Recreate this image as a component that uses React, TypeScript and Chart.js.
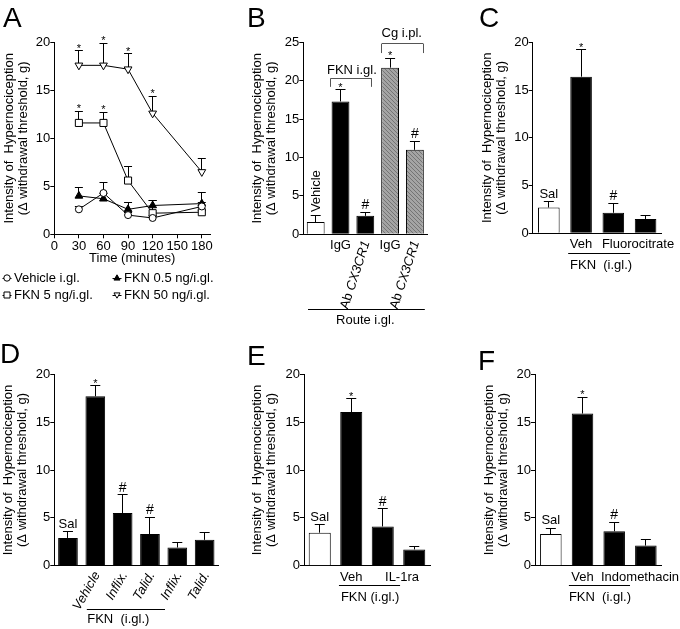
import React, { useEffect, useRef } from 'react';
import { Chart, registerables } from 'chart.js';

Chart.register(...registerables);

const FONT = "'Liberation Sans', Arial, Helvetica, sans-serif";
Chart.defaults.font.family = FONT;
Chart.defaults.font.size = 13;
Chart.defaults.color = '#000';

// ---------------- DATA ----------------
const Y_TITLE = ['Intensity of  Hypernociception', '(\u0394 withdrawal threshold, g)'];

// Panel A (time course)
const A_TIMES = [30, 60, 90, 120, 180];
const A_X_TICKS = [0, 30, 60, 90, 120, 150, 180];
const A_Y_TICKS = [0, 5, 10, 15, 20];
const A_X_TITLE = 'Time (minutes)';
const A_SERIES = ['Vehicle i.gl.', 'FKN 0.5 ng/i.gl.', 'FKN 5 ng/i.gl.', 'FKN 50 ng/i.gl.'];
const A_VEHICLE = [2.6, 4.3, 2.0, 1.7, 2.9];
const A_VEHICLE_SEM = [0.3, 1.1, 0.3, 0.3, 0.4];
const A_FKN05 = [4.0, 3.7, 2.6, 3.0, 3.2];
const A_FKN05_SEM = [0.9, 0.6, 0.7, 0.5, 1.2];
const A_FKN5 = [11.6, 11.6, 5.6, 2.2, 2.3];
const A_FKN5_SEM = [1.2, 1.1, 1.5, 1.3, 0.2];
const A_FKN50 = [17.6, 17.6, 17.2, 12.6, 6.5];
const A_FKN50_SEM = [1.5, 2.3, 1.6, 1.8, 1.4];
const A_VEHICLE_SIG = ['', '', '', '', ''];
const A_FKN05_SIG = ['', '', '', '', ''];
const A_FKN5_SIG = ['*', '*', '', '', ''];
const A_FKN50_SIG = ['*', '*', '*', '*', ''];

// Panel B
const B_LABELS = ['Vehicle', 'IgG', 'Ab CX3CR1', 'IgG', 'Ab CX3CR1'];
const B_VALUES = [1.6, 17.3, 2.4, 21.7, 11.0];
const B_SEM = [0.9, 1.5, 0.45, 1.25, 1.1];
const B_SIG = ['', '*', '#', '*', '#'];
const B_Y_TICKS = [0, 5, 10, 15, 20, 25];
const B_GROUPS = ['FKN i.gl.', 'Cg i.pl.'];
const B_ROUTE = 'Route i.gl.';

// Panel C
const C_LABELS = ['Sal', 'Veh', 'Fluorocitrate', 'Fluorocitrate alone'];
const C_VALUES = [2.7, 16.4, 2.15, 1.5];
const C_SEM = [0.6, 2.8, 1.0, 0.4];
const C_SIG = ['', '*', '#', ''];
const C_Y_TICKS = [0, 5, 10, 15, 20];

// Panel D
const D_LABELS = ['Sal', 'Vehicle', 'Inflix.', 'Talid.', 'Inflix.', 'Talid.'];
const D_VALUES = [2.9, 17.7, 5.5, 3.3, 1.9, 2.7];
const D_SEM = [0.65, 1.1, 1.9, 1.75, 0.5, 0.8];
const D_SIG = ['', '*', '#', '#', '', ''];
const D_Y_TICKS = [0, 5, 10, 15, 20];

// Panel E
const E_LABELS = ['Sal', 'Veh', 'IL-1ra', 'IL-1ra alone'];
const E_VALUES = [3.45, 16.05, 4.1, 1.7];
const E_SEM = [0.85, 1.4, 1.85, 0.3];
const E_SIG = ['', '*', '#', ''];
const E_Y_TICKS = [0, 5, 10, 15, 20];

// Panel F
const F_LABELS = ['Sal', 'Veh', 'Indomethacin', 'Indomethacin alone'];
const F_VALUES = [3.3, 15.9, 3.6, 2.1];
const F_SEM = [0.6, 1.7, 0.95, 0.65];
const F_SIG = ['', '*', '#', ''];
const F_Y_TICKS = [0, 5, 10, 15, 20];

const GROUP_FKN_WIDE = 'FKN  (i.gl.)';
const GROUP_FKN = 'FKN (i.gl.)';

// ---------------- LAYOUT ----------------
type Box = { x: number; y: number; w: number; h: number };
type Area = { l: number; t: number; r: number; b: number };

const A_BOX: Box = { x: 0, y: 0, w: 228, h: 310 };
const A_AREA: Area = { l: 54.3, t: 42.3, r: 210, b: 234.3 };
const B_BOX: Box = { x: 240, y: 0, w: 210, h: 330 };
const B_AREA: Area = { l: 303.3, t: 42.3, r: 427.3, b: 234.3 };
const C_BOX: Box = { x: 450, y: 0, w: 230, h: 310 };
const C_AREA: Area = { l: 532.7, t: 42.3, r: 661.7, b: 233.3 };
const D_BOX: Box = { x: 0, y: 320, w: 230, h: 309 };
const D_AREA: Area = { l: 54.3, t: 374.3, r: 218.3, b: 565.7 };
const E_BOX: Box = { x: 240, y: 320, w: 210, h: 309 };
const E_AREA: Area = { l: 304, t: 374.3, r: 430, b: 565.7 };
const F_BOX: Box = { x: 465, y: 320, w: 215, h: 309 };
const F_AREA: Area = { l: 535, t: 374.3, r: 661.7, b: 565.7 };

// ---------------- HELPERS ----------------
type TextOpts = { size?: number; align?: any; baseline?: any; rot?: number; italic?: boolean; color?: string };

function drawText(ctx: any, s: string, x: number, y: number, o: TextOpts = {}) {
  const { size = 13, align = 'center', baseline = 'middle', rot = 0, italic = false, color = '#000' } = o;
  ctx.save();
  ctx.font = `${italic ? 'italic ' : ''}${size}px ${FONT}`;
  ctx.fillStyle = color;
  ctx.textAlign = align;
  ctx.textBaseline = baseline;
  ctx.translate(x, y);
  if (rot) ctx.rotate((rot * Math.PI) / 180);
  ctx.fillText(s, 0, 0);
  ctx.restore();
}

function drawRich(ctx: any, parts: [string, boolean][], x: number, y: number, rot: number, size = 13) {
  ctx.save();
  ctx.translate(x, y);
  ctx.rotate((rot * Math.PI) / 180);
  ctx.textBaseline = 'middle';
  ctx.textAlign = 'left';
  ctx.fillStyle = '#000';
  const fonts = parts.map(([, it]) => `${it ? 'italic ' : ''}${size}px ${FONT}`);
  const widths = parts.map(([s], k) => {
    ctx.font = fonts[k];
    return ctx.measureText(s).width;
  });
  let cx = -widths.reduce((a, b) => a + b, 0);
  parts.forEach(([s], k) => {
    ctx.font = fonts[k];
    ctx.fillText(s, cx, 0);
    cx += widths[k];
  });
  ctx.restore();
}

const snap = (v: number) => Math.round(v - 0.5) + 0.5;

function drawLine(ctx: any, x1: number, y1: number, x2: number, y2: number, color = '#000') {
  ctx.save();
  ctx.strokeStyle = color;
  ctx.lineWidth = 1;
  ctx.beginPath();
  const sx1 = x1 === x2 ? snap(x1) : x1;
  const sx2 = x1 === x2 ? snap(x2) : x2;
  const sy1 = y1 === y2 ? snap(y1) : y1;
  const sy2 = y1 === y2 ? snap(y2) : y2;
  ctx.moveTo(sx1, sy1);
  ctx.lineTo(sx2, sy2);
  ctx.stroke();
  ctx.restore();
}

function makeAnn(chart: any) {
  const ctx = chart.ctx;
  const xs = chart.scales.x;
  const ys = chart.scales.y;
  return {
    ctx,
    px: (v: number) => xs.getPixelForValue(v),
    py: (v: number) => ys.getPixelForValue(v),
    bottom: chart.chartArea.bottom,
    text: (s: string, x: number, y: number, o?: TextOpts) => drawText(ctx, s, x, y, o),
    rich: (p: [string, boolean][], x: number, y: number, rot: number) => drawRich(ctx, p, x, y, rot),
    line: (x1: number, y1: number, x2: number, y2: number, c?: string) => drawLine(ctx, x1, y1, x2, y2, c),
  };
}

function drawLetter(ctx: any, box: Box, letter: string, x: number, y: number) {
  drawText(ctx, letter, x - box.x, y - box.y, { size: 28, align: 'left', baseline: 'alphabetic' });
}

function layoutFor(box: Box, area: Area, axisLeft: number, xAxisH: number) {
  return {
    padding: {
      left: axisLeft - box.x,
      top: area.t - box.y,
      right: box.x + box.w - area.r,
      bottom: box.y + box.h - area.b - xAxisH,
    },
    yW: area.l - axisLeft,
    xH: xAxisH,
  };
}

function yScaleOpts(max: number, ticks: number[], yW: number) {
  return {
    type: 'linear',
    min: 0,
    max,
    afterBuildTicks: (s: any) => {
      s.ticks = ticks.map((v) => ({ value: v }));
    },
    afterFit: (s: any) => {
      s.width = yW;
    },
    ticks: { padding: 0, color: '#000', font: { size: 13 } },
    grid: { display: true, drawOnChartArea: false, drawTicks: true, tickLength: 4, color: '#000', lineWidth: 1 },
    border: { display: true, color: '#000', width: 1 },
    title: { display: true, text: Y_TITLE, padding: 0, color: '#000', font: { size: 13, lineHeight: 14 / 13 } },
  };
}

function hatchPattern(): any {
  const c = document.createElement('canvas');
  c.width = 4;
  c.height = 4;
  const g = c.getContext('2d');
  if (!g) return '#9a9a9a';
  g.fillStyle = '#a4a4a4';
  g.fillRect(0, 0, 4, 4);
  g.strokeStyle = '#747474';
  g.lineWidth = 1;
  g.beginPath();
  g.moveTo(0, 0);
  g.lineTo(4, 4);
  g.stroke();
  return g.createPattern(c, 'repeat') || '#9a9a9a';
}

// ---------------- BAR PANELS ----------------
type BarSpec = {
  box: Box;
  area: Area;
  axisLeft: number;
  xAxisH: number;
  letter: string;
  letterPos: [number, number];
  labels: string[];
  values: number[];
  sem: number[];
  sig: string[];
  yMax: number;
  yTicks: number[];
  fills: () => any[];
  barPct: number;
  xTitle?: string;
  annotate: (a: any) => void;
};

function makeBarConfig(spec: BarSpec) {
  const L = layoutFor(spec.box, spec.area, spec.axisLeft, spec.xAxisH);
  const plugin = {
    id: 'annot' + spec.letter,
    afterDatasetsDraw(chart: any) {
      const a = makeAnn(chart);
      spec.values.forEach((v, i) => {
        const x = a.px(i);
        const top = a.py(v + spec.sem[i]);
        a.line(x, a.py(v), x, top);
        a.line(x - 5, top, x + 5, top);
        if (spec.sig[i] === '*') a.text('*', x, top + 1, { size: 11, baseline: 'alphabetic' });
        if (spec.sig[i] === '#') a.text('#', x, top - 3, { size: 14, baseline: 'alphabetic' });
      });
      spec.annotate(a);
      drawLetter(a.ctx, spec.box, spec.letter, spec.letterPos[0], spec.letterPos[1]);
    },
  };
  return {
    type: 'bar',
    data: {
      labels: spec.labels,
      datasets: [
        {
          data: spec.values,
          backgroundColor: spec.fills(),
          borderColor: '#000',
          borderWidth: 1,
          barPercentage: spec.barPct,
          categoryPercentage: 1,
        },
      ],
    },
    options: {
      responsive: false,
      animation: false,
      devicePixelRatio: 1,
      layout: { padding: L.padding },
      plugins: { legend: { display: false }, tooltip: { enabled: false } },
      events: [],
      scales: {
        x: {
          type: 'category',
          offset: true,
          afterFit: (s: any) => {
            s.height = L.xH;
          },
          ticks: { display: false },
          grid: { display: false },
          border: { display: true, color: '#000', width: 1 },
          title: spec.xTitle
            ? { display: true, text: spec.xTitle, padding: 0, color: '#000', font: { size: 13 } }
            : { display: false },
        },
        y: yScaleOpts(spec.yMax, spec.yTicks, L.yW),
      },
    },
    plugins: [plugin],
  };
}

function salLabel(a: any, values: number[], sem: number[]) {
  a.text('Sal', a.px(0), a.py(values[0] + sem[0]) - 4, { baseline: 'alphabetic' });
}

const makeB = () =>
  makeBarConfig({
    box: B_BOX,
    area: B_AREA,
    axisLeft: 250,
    xAxisH: 93.5,
    letter: 'B',
    letterPos: [247, 27],
    labels: B_LABELS,
    values: B_VALUES,
    sem: B_SEM,
    sig: B_SIG,
    yMax: 25,
    yTicks: B_Y_TICKS,
    fills: () => {
      const h = hatchPattern();
      return ['#fff', '#000', '#000', h, h];
    },
    barPct: 0.72,
    xTitle: B_ROUTE,
    annotate: (a: any) => {
      a.text(B_LABELS[0], a.px(0) + 1, a.py(B_VALUES[0] + B_SEM[0]) - 3, { rot: -90, align: 'left' });
      [1, 3].forEach((i) => a.text(B_LABELS[i], a.px(i), a.bottom + 11));
      [2, 4].forEach((i) => {
        const [p1, p2] = B_LABELS[i].split(' ');
        a.rich([[p1 + ' ', false], [p2, true]], a.px(i) + 1, a.bottom + 7, -72);
      });
      // brackets
      const gray = '#555';
      const br = (x1: number, x2: number, yTop: number, yBot: number) => {
        a.line(a.px(x1), a.py(yTop), a.px(x2), a.py(yTop), gray);
        a.line(a.px(x1), a.py(yTop), a.px(x1), a.py(yBot), gray);
        a.line(a.px(x2), a.py(yTop), a.px(x2), a.py(yBot), gray);
      };
      br(0.6, 2.26, 20.3, 19.2);
      a.text(B_GROUPS[0], a.px(1.46), a.py(21.4));
      br(2.66, 4.34, 24.8, 23.6);
      a.text(B_GROUPS[1], a.px(3.47), a.py(26.1));
      a.line(a.px(-0.31), a.bottom + 75, a.px(4.4), a.bottom + 75);
    },
  });

const makeC = () =>
  makeBarConfig({
    box: C_BOX,
    area: C_AREA,
    axisLeft: 480,
    xAxisH: 10,
    letter: 'C',
    letterPos: [479, 27],
    labels: C_LABELS,
    values: C_VALUES,
    sem: C_SEM,
    sig: C_SIG,
    yMax: 20,
    yTicks: C_Y_TICKS,
    fills: () => ['#fff', '#000', '#000', '#000'],
    barPct: 0.67,
    annotate: (a: any) => {
      salLabel(a, C_VALUES, C_SEM);
      a.text(C_LABELS[1], a.px(1), a.bottom + 11);
      a.text(C_LABELS[2], a.px(2.5) + 8.6, a.bottom + 11);
      a.line(a.px(0.6), a.bottom + 20, a.px(2.52), a.bottom + 20);
      a.text(GROUP_FKN_WIDE, a.px(1.62), a.bottom + 32.5);
    },
  });

const makeD = () =>
  makeBarConfig({
    box: D_BOX,
    area: D_AREA,
    axisLeft: 1,
    xAxisH: 10,
    letter: 'D',
    letterPos: [0, 363],
    labels: D_LABELS,
    values: D_VALUES,
    sem: D_SEM,
    sig: D_SIG,
    yMax: 20,
    yTicks: D_Y_TICKS,
    fills: () => D_VALUES.map(() => '#000'),
    barPct: 0.72,
    annotate: (a: any) => {
      salLabel(a, D_VALUES, D_SEM);
      for (let i = 1; i < D_LABELS.length; i++) {
        a.text(D_LABELS[i], a.px(i) + 2, a.bottom + 7, { rot: -60, align: 'right', italic: true });
      }
      a.line(a.px(0.69), a.bottom + 43.3, a.px(3.55), a.bottom + 43.3);
      a.text(GROUP_FKN_WIDE, a.px(1.84), a.bottom + 53.5);
    },
  });

const makeE = () =>
  makeBarConfig({
    box: E_BOX,
    area: E_AREA,
    axisLeft: 250,
    xAxisH: 10,
    letter: 'E',
    letterPos: [247, 365],
    labels: E_LABELS,
    values: E_VALUES,
    sem: E_SEM,
    sig: E_SIG,
    yMax: 20,
    yTicks: E_Y_TICKS,
    fills: () => ['#fff', '#000', '#000', '#000'],
    barPct: 0.7,
    annotate: (a: any) => {
      salLabel(a, E_VALUES, E_SEM);
      a.text(E_LABELS[1], a.px(1), a.bottom + 11.3);
      a.text(E_LABELS[2], a.px(2.5) + 3.5, a.bottom + 11.3);
      a.line(a.px(0.61), a.bottom + 19.3, a.px(2.55), a.bottom + 19.3);
      a.text(GROUP_FKN, a.px(1.6), a.bottom + 31.5);
    },
  });

const makeF = () =>
  makeBarConfig({
    box: F_BOX,
    area: F_AREA,
    axisLeft: 482,
    xAxisH: 10,
    letter: 'F',
    letterPos: [478, 370],
    labels: F_LABELS,
    values: F_VALUES,
    sem: F_SEM,
    sig: F_SIG,
    yMax: 20,
    yTicks: F_Y_TICKS,
    fills: () => ['#fff', '#000', '#000', '#000'],
    barPct: 0.68,
    annotate: (a: any) => {
      salLabel(a, F_VALUES, F_SEM);
      a.text(F_LABELS[1], a.px(1), a.bottom + 11.3);
      a.text(F_LABELS[2], a.px(2.5) + 10, a.bottom + 11.3);
      a.line(a.px(0.57), a.bottom + 19.3, a.px(2.5), a.bottom + 19.3);
      a.text(GROUP_FKN_WIDE, a.px(1.55), a.bottom + 31.5);
    },
  });

// ---------------- PANEL A ----------------
function drawMarker(ctx: any, style: string, x: number, y: number, r: number, fill: string) {
  ctx.save();
  ctx.strokeStyle = '#000';
  ctx.lineWidth = 1;
  ctx.fillStyle = fill;
  ctx.beginPath();
  if (style === 'circle') ctx.arc(x, y, r, 0, Math.PI * 2);
  else if (style === 'square') ctx.rect(x - r, y - r, 2 * r, 2 * r);
  else if (style === 'triUp') {
    ctx.moveTo(x, y - r);
    ctx.lineTo(x + r * 0.95, y + r * 0.65);
    ctx.lineTo(x - r * 0.95, y + r * 0.65);
    ctx.closePath();
  } else {
    ctx.moveTo(x, y + r);
    ctx.lineTo(x + r * 0.95, y - r * 0.65);
    ctx.lineTo(x - r * 0.95, y - r * 0.65);
    ctx.closePath();
  }
  ctx.fill();
  ctx.stroke();
  ctx.restore();
}

const makeA = () => {
  const L = layoutFor(A_BOX, A_AREA, 2, 31.5);
  const series = [
    { name: A_SERIES[0], mean: A_VEHICLE, sem: A_VEHICLE_SEM, sig: A_VEHICLE_SIG, style: 'circle', rot: 0, r: 3.5, fill: '#fff', mk: 'circle' },
    { name: A_SERIES[1], mean: A_FKN05, sem: A_FKN05_SEM, sig: A_FKN05_SIG, style: 'triangle', rot: 0, r: 4.5, fill: '#000', mk: 'triUp' },
    { name: A_SERIES[2], mean: A_FKN5, sem: A_FKN5_SEM, sig: A_FKN5_SIG, style: 'rect', rot: 0, r: 5, fill: '#fff', mk: 'square' },
    { name: A_SERIES[3], mean: A_FKN50, sem: A_FKN50_SEM, sig: A_FKN50_SIG, style: 'triangle', rot: 180, r: 4.5, fill: '#fff', mk: 'triDown' },
  ];
  const plugin = {
    id: 'annotA',
    beforeDatasetsDraw(chart: any) {
      const a = makeAnn(chart);
      series.forEach((s) => {
        A_TIMES.forEach((t, i) => {
          const x = a.px(t);
          const top = a.py(s.mean[i] + s.sem[i]);
          a.line(x, a.py(s.mean[i]), x, top);
          a.line(x - 4, top, x + 4, top);
        });
      });
    },
    afterDatasetsDraw(chart: any) {
      const a = makeAnn(chart);
      series.forEach((s) => {
        A_TIMES.forEach((t, i) => {
          if (s.sig[i] === '*') a.text('*', a.px(t), a.py(s.mean[i] + s.sem[i]) + 1, { size: 11, baseline: 'alphabetic' });
        });
      });
      // legend (2 x 2)
      const cols = [7, 117];
      const rows = [278, 295];
      const order = [0, 1, 2, 3];
      order.forEach((k, n) => {
        const s = series[k];
        const mx = cols[n % 2] - A_BOX.x;
        const my = rows[Math.floor(n / 2)] - A_BOX.y;
        a.line(mx - 4.5, my, mx + 4.5, my);
        drawMarker(a.ctx, s.mk, mx, my, s.mk === 'square' ? 3 : 3.2, s.fill);
        a.text(s.name, mx + 7, my, { align: 'left' });
      });
      drawLetter(a.ctx, A_BOX, 'A', 3, 27);
    },
  };
  return {
    type: 'line',
    data: {
      datasets: series.map((s) => ({
        label: s.name,
        data: A_TIMES.map((t, i) => ({ x: t, y: s.mean[i] })),
        borderColor: '#000',
        borderWidth: 1,
        tension: 0,
        fill: false,
        pointStyle: s.style,
        pointRotation: s.rot,
        pointRadius: s.r,
        pointBackgroundColor: s.fill,
        pointBorderColor: '#000',
        pointBorderWidth: 1,
      })),
    },
    options: {
      responsive: false,
      animation: false,
      devicePixelRatio: 1,
      events: [],
      layout: { padding: L.padding },
      plugins: { legend: { display: false }, tooltip: { enabled: false } },
      scales: {
        x: {
          type: 'linear',
          min: 0,
          max: 190,
          afterBuildTicks: (s: any) => {
            s.ticks = A_X_TICKS.map((v) => ({ value: v }));
          },
          afterFit: (s: any) => {
            s.height = L.xH;
          },
          ticks: { padding: 0, autoSkip: false, maxRotation: 0, minRotation: 0, color: '#000', font: { size: 13 } },
          grid: { display: true, drawOnChartArea: false, drawTicks: true, tickLength: 4, color: '#000', lineWidth: 1 },
          border: { display: true, color: '#000', width: 1 },
          title: { display: true, text: A_X_TITLE, padding: 0, color: '#000', font: { size: 13 } },
        },
        y: yScaleOpts(20, A_Y_TICKS, L.yW),
      },
    },
    plugins: [plugin],
  };
};

// ---------------- COMPONENTS ----------------
function ChartCanvas({ box, make }: { box: Box; make: () => any }) {
  const ref = useRef<HTMLCanvasElement | null>(null);
  useEffect(() => {
    const c = ref.current;
    if (!c) return;
    const chart = new Chart(c, make() as any);
    return () => chart.destroy();
  }, []);
  return (
    <canvas
      ref={ref}
      width={box.w}
      height={box.h}
      style={{ position: 'absolute', left: box.x, top: box.y, width: box.w, height: box.h }}
    />
  );
}

export default function App() {
  return (
    <div style={{ position: 'absolute', left: 0, top: 0, width: 680, height: 629, background: '#fff', overflow: 'hidden' }}>
      <ChartCanvas box={A_BOX} make={makeA} />
      <ChartCanvas box={B_BOX} make={makeB} />
      <ChartCanvas box={C_BOX} make={makeC} />
      <ChartCanvas box={D_BOX} make={makeD} />
      <ChartCanvas box={E_BOX} make={makeE} />
      <ChartCanvas box={F_BOX} make={makeF} />
    </div>
  );
}
